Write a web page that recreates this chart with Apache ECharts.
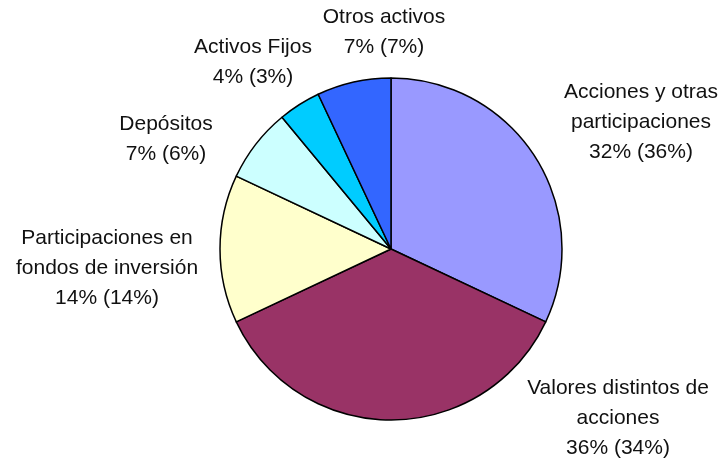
<!DOCTYPE html>
<html>
<head>
<meta charset="utf-8">
<script src="https://cdn.jsdelivr.net/npm/echarts@6/dist/echarts.min.js"></script>
<style>html,body{margin:0;padding:0;background:#fff;}#c{width:725px;height:463px;}</style>
</head>
<body>
<div id="c"></div>
<script>
var categories = ['Acciones y otras\nparticipaciones', 'Valores distintos de\nacciones', 'Participaciones en\nfondos de inversión', 'Depósitos', 'Activos Fijos', 'Otros activos'];
var values = [32, 36, 14, 7, 4, 7];
var prevValues = [36, 34, 14, 6, 3, 7];
var colors = ['#9999FF', '#993366', '#FFFFCC', '#CCFFFF', '#00CCFF', '#3366FF'];
var labelPos = [[641, 122], [618, 418], [107, 268], [166, 139], [253, 62], [384, 32]];

var chart = echarts.init(document.getElementById('c'));
chart.setOption({
  animation: false,
  series: [{
    type: 'pie',
    center: [391, 249],
    radius: [0, 171],
    startAngle: 90,
    clockwise: true,
    avoidLabelOverlap: false,
    data: categories.map(function (n, i) {
      return { name: n, value: values[i], itemStyle: { color: colors[i] } };
    }),
    itemStyle: { borderColor: '#000', borderWidth: 1.5 },
    label: {
      show: true,
      position: 'outside',
      formatter: function (p) { return p.name + '\n' + values[p.dataIndex] + '% (' + prevValues[p.dataIndex] + '%)'; },
      fontFamily: 'Liberation Sans, Arial, sans-serif',
      fontSize: 21,
      lineHeight: 30,
      color: '#111',
      align: 'center'
    },
    labelLine: { show: false },
    labelLayout: function (params) {
      var p = labelPos[params.dataIndex];
      return { x: p[0], y: p[1], align: 'center', verticalAlign: 'middle' };
    },
    emphasis: { disabled: true }
  }]
});
</script>
</body>
</html>
